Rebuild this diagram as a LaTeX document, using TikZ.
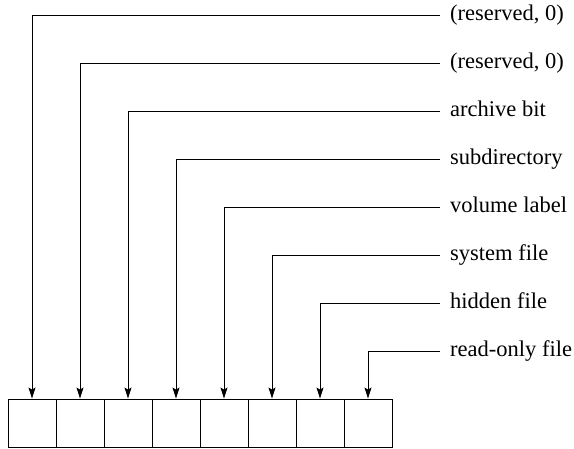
\documentclass[tikz,border=0pt]{standalone}
\usepackage{fontspec}
\setmainfont{Liberation Serif}
\usetikzlibrary{arrows.meta}

\begin{document}
\begin{tikzpicture}[x=1pt,y=-1pt,
    bitbox/.style={draw,line width=0.9pt,minimum width=48pt,minimum height=48pt,inner sep=0pt},
    bitlabel/.style={anchor=west,inner sep=0pt,inner xsep=10pt,text height=16pt,text depth=4pt,
      font=\fontsize{22.5}{26}\selectfont},
    bitarrow/.style={line width=0.9pt,-{Stealth[length=11pt,width=7pt,inset=2pt]}}]
  \useasboundingbox (0,0) rectangle (574,449);
  % the byte
  \foreach \i in {1,...,8}
    \node[bitbox] (b\i) at ({32+48*(\i-1)},423) {};
  % the bit names
  \foreach \i/\txt in {1/{(reserved, 0)},2/{(reserved, 0)},3/archive bit,4/subdirectory,
      5/volume label,6/system file,7/hidden file,8/read-only file}
    \node[bitlabel] (l\i) at (440,{15+48*(\i-1)}) {\txt};
  \foreach \i in {1,...,8}
    \draw[bitarrow] (l\i.west) -| (b\i.north);
\end{tikzpicture}
\end{document}
